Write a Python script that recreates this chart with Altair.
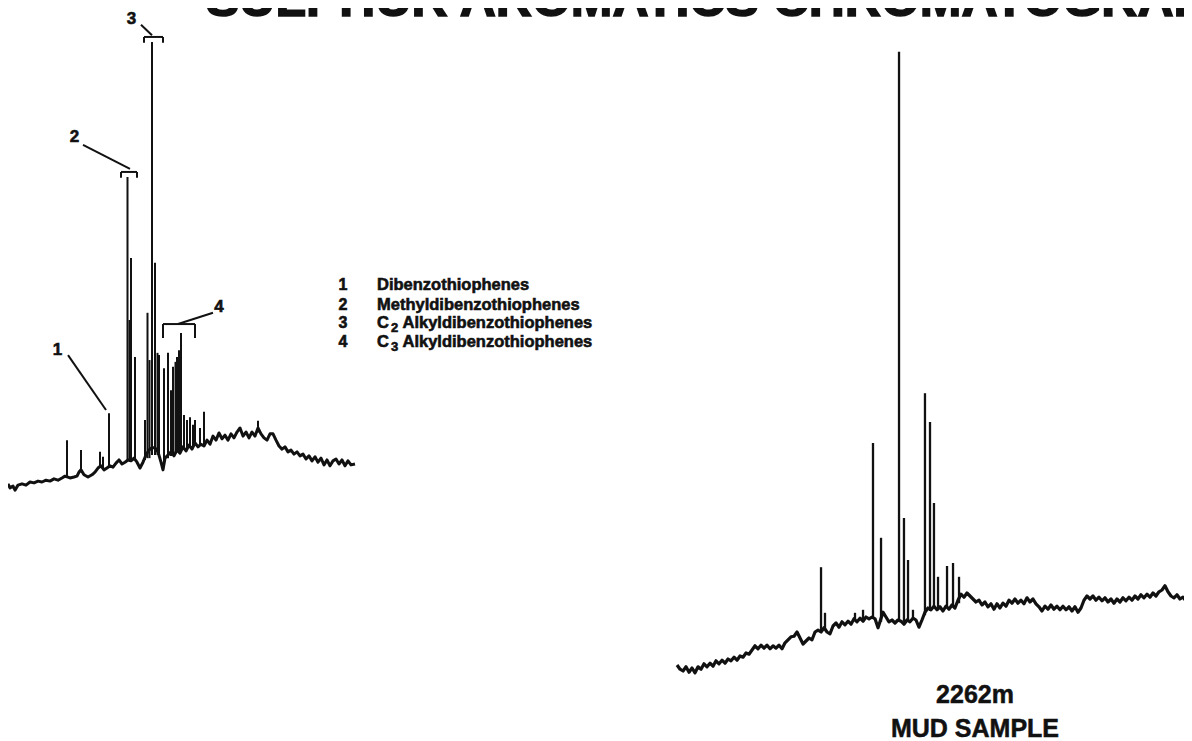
import altair as alt
import pandas as pd

FONT = "Liberation Sans"

# ---------------- Left chromatogram (sulphur aromatics, reference trace) ----------------
# retention time (arbitrary min) and detector signal (% of largest peak)
left_time = [0.0, 0.4, 1.0, 1.4, 2.0, 2.8, 3.6, 4.4, 5.2, 6.0, 6.8, 7.6, 8.4, 9.2, 10.0,
             10.8, 11.4, 12.4, 13.2, 13.8, 14.2, 14.6, 15.2, 16.0, 16.8, 17.4, 18.0, 18.6,
             19.2, 19.8, 20.4, 21.0, 21.6, 22.2, 22.8, 23.4, 24.0, 24.6, 25.2, 25.8, 26.4,
             27.0, 27.6, 28.2, 28.8, 29.4, 30.0, 30.6, 31.0, 31.4, 32.0, 32.6, 33.2, 33.8,
             34.4, 35.0, 35.6, 36.2, 36.8, 37.4, 38.0, 38.6, 39.2, 39.8, 40.4, 41.0, 41.6,
             42.2, 42.8, 43.4, 44.0, 44.6, 45.2, 45.8, 46.4, 47.0, 47.6, 48.2, 48.8, 49.4,
             50.0, 50.6, 51.2, 51.8, 52.4, 53.0, 53.6, 54.2, 54.8, 55.4, 56.0, 56.6, 57.2,
             57.8, 58.4, 59.0, 59.6, 60.2, 60.8, 61.4, 62.0, 62.6, 63.2, 63.8, 64.4, 65.0,
             65.6, 66.2, 66.8, 67.4, 68.0, 68.6, 69.4]
left_signal = [3.6, 2.7, 3.1, 2.2, 3.3, 3.6, 3.3, 4.0, 3.8, 4.2, 4.0, 4.4, 4.2, 4.7, 4.4,
               4.9, 5.3, 4.9, 5.1, 5.3, 6.2, 6.7, 5.6, 5.1, 5.6, 6.2, 7.1, 7.6,
               6.7, 7.1, 7.6, 7.3, 8.2, 8.9, 8.0, 8.4, 8.9, 8.7, 9.3, 8.4, 7.1,
               8.4, 10.0, 11.1, 11.6, 11.6, 10.7, 8.4, 6.7, 9.3, 10.0, 10.7, 9.8, 11.1,
               10.4, 11.8, 10.9, 12.2, 11.3, 12.7, 11.8, 12.4, 12.0, 13.3, 12.4, 14.2, 13.3,
               14.9, 13.6, 14.4, 13.3, 14.7, 13.8, 15.1, 16.0, 14.2, 15.1, 13.8, 15.1, 14.2,
               16.0, 14.7, 13.8, 13.3, 14.7, 14.7, 13.3, 12.0, 11.3, 11.8, 10.7, 11.1, 10.2,
               10.7, 9.8, 10.2, 9.1, 9.8, 8.7, 9.6, 8.4, 9.3, 7.8, 8.9, 7.6, 8.7,
               9.1, 8.0, 8.9, 7.6, 8.7, 7.8, 8.0]
left_peak_time = [11.8, 14.6, 18.4, 19.0, 20.2, 23.9, 24.3, 24.6, 25.4, 27.4, 27.9, 28.3,
                  28.8, 29.4, 29.9, 30.2, 31.2, 32.0, 32.6, 33.0, 33.5, 33.8, 34.2, 34.6,
                  35.2, 35.8, 36.4, 37.0, 37.4, 38.4, 39.2, 50.0]
left_peak_foot = [5.1, 6.2, 7.1, 7.1, 7.3, 8.9, 8.9, 8.9, 8.9, 8.9, 9.3, 9.3,
                  10.0, 10.0, 10.0, 9.8, 8.4, 9.3, 9.8, 10.0, 10.4, 10.7, 10.7, 11.1,
                  11.1, 11.6, 11.8, 12.0, 12.2, 12.2, 12.4, 15.0]
left_peak_top = [13.3, 11.1, 10.7, 9.6, 19.3, 71.8, 40.0, 53.8, 31.8, 17.8, 41.6, 31.1,
                 101.8, 52.7, 32.7, 32.2, 29.3, 32.7, 24.4, 29.6, 30.7, 31.8, 33.3, 37.1,
                 18.9, 17.8, 18.4, 16.7, 17.8, 16.0, 19.6, 17.6]

# peak group labels (in left-trace units)
label_text = ["1", "2", "3", "4"]
label_time = [9.9, 13.3, 24.7, 42.2]
label_signal = [33.4, 80.6, 106.8, 43.0]
# leader lines and brackets: start/end (time, signal)
seg_t1 = [12.0, 15.0, 22.6, 22.6, 25.8, 26.6, 27.2, 27.2, 31.0, 41.0, 31.0, 31.0, 37.4]
seg_s1 = [32.2, 78.9, 72.9, 72.9, 72.9, 105.6, 102.9, 102.9, 102.9, 41.6, 39.1, 39.1, 39.1]
seg_t2 = [19.6, 24.4, 25.8, 22.6, 25.8, 28.8, 31.0, 27.2, 31.0, 34.0, 37.4, 31.0, 37.4]
seg_s2 = [20.0, 73.6, 72.9, 71.6, 71.6, 103.3, 102.9, 101.6, 101.6, 39.1, 39.1, 36.0, 36.0]

legend_num = ["1", "2", "3", "4"]
legend_prefix = ["", "", "C", "C"]
legend_sub = ["", "", "2", "3"]
legend_name = ["Dibenzothiophenes", "Methyldibenzothiophenes",
               "Alkyldibenzothiophenes", "Alkyldibenzothiophenes"]
legend_signal = [47.7, 43.4, 39.3, 35.1]

# ---------------- Right chromatogram (2262m mud sample) ----------------
right_time = [0.27, 0.67, 1.07, 1.47, 1.87, 2.27, 2.67, 3.07, 3.47, 3.87, 4.27, 4.67, 5.07,
              5.47, 5.87, 6.27, 6.67, 7.07, 7.47, 7.87, 8.27, 8.67, 9.07, 9.47, 9.87, 10.27,
              10.67, 11.07, 11.47, 11.87, 12.27, 12.67, 13.07, 13.47, 13.87, 14.27, 14.67,
              15.07, 15.47, 15.87, 16.27, 16.67, 17.07, 17.47, 17.87, 18.27, 18.67, 19.07,
              19.47, 19.87, 20.27, 20.67, 21.07, 21.47, 21.87, 22.27, 22.67, 23.07, 23.47,
              23.87, 24.27, 24.67, 25.07, 25.47, 25.87, 26.27, 26.67, 27.07, 27.33, 27.73,
              28.13, 28.53, 28.93, 29.33, 29.73, 30.13, 30.53, 30.93, 31.33, 31.73, 32.13,
              32.53, 32.93, 33.33, 33.73, 34.13, 34.53, 34.93, 35.33, 35.73, 36.13, 36.53,
              36.93, 37.33, 37.73, 38.13, 38.53, 38.93, 39.33, 39.73, 40.13, 40.53, 40.93,
              41.33, 41.73, 42.13, 42.53, 42.93, 43.33, 43.73, 44.13, 44.53, 44.93, 45.33,
              45.73, 46.13, 46.53, 46.93, 47.33, 47.73, 48.13, 48.53, 48.93, 49.33, 49.73,
              50.13, 50.53, 50.93, 51.33, 51.73, 52.13, 52.53, 52.93, 53.33, 53.73, 54.13,
              54.53, 54.93, 55.33, 55.73, 56.13, 56.53, 56.93, 57.33, 57.73, 58.13, 58.53,
              58.93, 59.33, 59.73, 60.13, 60.53, 60.93, 61.33, 61.73, 62.13, 62.53, 62.93,
              63.33, 63.73, 64.13, 64.53, 64.93, 65.33, 65.73, 66.13, 66.53, 66.93, 67.33,
              67.73, 68.13, 68.53, 68.93]
right_signal = [2.5, 1.8, 1.5, 2.2, 1.3, 2.0, 1.2, 2.2, 1.8, 2.7, 2.2, 2.8, 2.3,
                3.2, 2.7, 3.3, 2.8, 3.5, 3.2, 3.8, 3.3, 4.0, 3.8, 4.5, 4.3, 5.0,
                5.7, 5.2, 5.8, 5.3, 5.8, 5.2, 5.7, 5.3, 5.8, 5.2, 6.2,
                6.7, 7.2, 7.3, 8.0, 7.0, 6.0, 6.5, 7.0, 6.7, 8.0, 8.3,
                8.0, 8.7, 8.0, 7.7, 9.0, 9.5, 8.8, 9.7, 9.2, 9.8, 9.3,
                10.2, 9.7, 10.3, 9.8, 10.5, 10.2, 10.5, 10.2, 8.7, 9.7, 11.3,
                10.5, 9.7, 10.0, 9.5, 10.0, 9.8, 9.3, 10.0, 9.7, 10.3, 10.0,
                8.8, 10.0, 11.3, 12.0, 11.7, 12.3, 11.7, 12.2, 11.5, 12.3, 11.8,
                12.5, 12.0, 13.3, 14.3, 13.8, 14.5, 14.0, 13.5, 13.0, 13.3, 12.5,
                13.0, 12.2, 12.7, 11.8, 12.7, 12.0, 12.8, 12.3, 13.3, 12.8, 13.5,
                12.8, 13.3, 12.7, 13.7, 13.0, 13.5, 12.7, 12.2, 11.5, 12.3, 11.8,
                12.5, 11.8, 12.3, 11.7, 12.3, 11.7, 12.2, 11.5, 12.2, 11.3, 12.0,
                13.3, 14.0, 13.5, 14.0, 13.3, 13.8, 13.2, 13.7, 13.0, 13.5, 12.8,
                13.5, 13.0, 13.7, 13.2, 13.8, 13.3, 14.0, 13.5, 14.2, 13.7, 14.3,
                13.8, 14.5, 14.0, 14.7, 15.0, 15.7, 14.7, 14.0, 13.7, 14.2, 13.5,
                13.8, 13.2, 13.5, 13.0]
right_peak_time = [19.47, 20.0, 24.0, 25.07, 26.4, 27.47, 29.87, 30.53, 31.07, 31.73,
                   33.33, 34.0, 34.53, 35.07, 36.27, 37.07, 37.87]
right_peak_foot = [8.3, 8.3, 10.0, 10.0, 10.3, 9.7, 10.0, 9.7, 9.8, 10.3,
                   10.8, 11.5, 12.0, 11.7, 12.2, 12.3, 12.8]
right_peak_top = [18.8, 11.2, 11.2, 11.7, 39.5, 23.7, 104.7, 27.0, 20.0, 11.7,
                  47.8, 43.0, 29.5, 17.2, 19.0, 19.5, 17.2]

sample_lines = ["2262m", "MUD SAMPLE"]
title_text = "SULPHUR AROMATICS CHROMATOGRAM"

INK = "#111111"

# ---------------- build ----------------
lx = alt.Scale(domain=[0, 70], range=[0, 350])
ly = alt.Scale(domain=[0, 100], range=[492, 42])
rx = alt.Scale(domain=[0, 70], range=[667, 1192])
ry = alt.Scale(domain=[0, 100], range=[672, 72])

left_base = pd.DataFrame({"t": left_time, "s": left_signal})
left_peaks = pd.DataFrame({"t": left_peak_time, "foot": left_peak_foot, "top": left_peak_top})
segs = pd.DataFrame({"t": seg_t1, "s": seg_s1, "t2": seg_t2, "s2": seg_s2})
labels = pd.DataFrame({"txt": label_text, "t": label_time, "s": label_signal})
leg = pd.DataFrame({"num": legend_num, "pre": legend_prefix, "sub": legend_sub,
                    "name": legend_name, "s": legend_signal})

l_line = alt.Chart(left_base).mark_line(color=INK, strokeWidth=3.0, strokeJoin="round").encode(
    x=alt.X("t:Q", scale=lx, axis=None), y=alt.Y("s:Q", scale=ly, axis=None))
l_peaks = alt.Chart(left_peaks).mark_rule(color=INK, strokeWidth=2.0).encode(
    x=alt.X("t:Q", scale=lx, axis=None), y=alt.Y("foot:Q", scale=ly, axis=None), y2="top:Q")
l_segs = alt.Chart(segs).mark_rule(color=INK, strokeWidth=2.0).encode(
    x=alt.X("t:Q", scale=lx, axis=None), y=alt.Y("s:Q", scale=ly, axis=None),
    x2="t2:Q", y2="s2:Q")
l_labels = alt.Chart(labels).mark_text(font=FONT, fontWeight="bold", fontSize=17, color=INK,
                                        stroke=INK, strokeWidth=0.6,
                                        align="center", baseline="middle").encode(
    x=alt.X("t:Q", scale=lx, axis=None), y=alt.Y("s:Q", scale=ly, axis=None), text="txt:N")

TXT = dict(font=FONT, fontWeight="bold", color=INK, stroke=INK, strokeWidth=0.6, baseline="middle")
leg_num = alt.Chart(leg).mark_text(fontSize=16, align="center", **TXT).encode(
    x=alt.datum(67.0, scale=lx), y=alt.Y("s:Q", scale=ly, axis=None), text="num:N")
leg_plain = alt.Chart(leg).transform_filter("datum.pre == ''").mark_text(
    fontSize=16.5, align="left", **TXT).encode(
    x=alt.datum(73.8, scale=lx), y=alt.Y("s:Q", scale=ly, axis=None), text="name:N")
leg_pre = alt.Chart(leg).transform_filter("datum.pre != ''").mark_text(
    fontSize=16.5, align="left", **TXT).encode(
    x=alt.datum(73.8, scale=lx), y=alt.Y("s:Q", scale=ly, axis=None), text="pre:N")
leg_sub = alt.Chart(leg).transform_filter("datum.pre != ''").mark_text(
    fontSize=13, align="left", dy=5, **TXT).encode(
    x=alt.datum(76.6, scale=lx), y=alt.Y("s:Q", scale=ly, axis=None), text="sub:N")
leg_name = alt.Chart(leg).transform_filter("datum.pre != ''").mark_text(
    fontSize=16.5, align="left", **TXT).encode(
    x=alt.datum(78.9, scale=lx), y=alt.Y("s:Q", scale=ly, axis=None), text="name:N")

left = alt.layer(l_line, l_peaks, l_segs, l_labels, leg_num, leg_plain, leg_pre, leg_sub, leg_name)

right_base = pd.DataFrame({"t": right_time, "s": right_signal})
right_peaks = pd.DataFrame({"t": right_peak_time, "foot": right_peak_foot, "top": right_peak_top})
r_line = alt.Chart(right_base).mark_line(color=INK, strokeWidth=3.2, strokeJoin="round").encode(
    x=alt.X("t:Q", scale=rx, axis=None), y=alt.Y("s:Q", scale=ry, axis=None))
r_peaks = alt.Chart(right_peaks).mark_rule(color=INK, strokeWidth=2.3).encode(
    x=alt.X("t:Q", scale=rx, axis=None), y=alt.Y("foot:Q", scale=ry, axis=None), y2="top:Q")
right = alt.layer(r_line, r_peaks)

title = alt.Chart(pd.DataFrame({"txt": [title_text]})).mark_text(
    font=FONT, fontWeight="bold", fontSize=50, color=INK, stroke=INK, strokeWidth=1.6,
    align="left", baseline="alphabetic").encode(
    x=alt.value(198), y=alt.value(8), text="txt:N")
sample = alt.Chart(pd.DataFrame({"txt": sample_lines, "k": [0, 1]})).mark_text(
    font=FONT, fontWeight="bold", fontSize=25, color=INK, stroke=INK, strokeWidth=0.5,
    align="center", baseline="alphabetic").encode(
    x=alt.value(967), y=alt.Y("k:Q", scale=alt.Scale(domain=[0, 1], range=[695, 729]), axis=None),
    text="txt:N")

chart = alt.layer(left, right, title, sample).resolve_scale(
    x="independent", y="independent").properties(
    width=1176, height=733, padding=0,
    autosize=alt.AutoSizeParams(type="none"),
    background="white").configure_view(stroke=None)

chart.save("out.html", embed_options={"renderer": "svg", "actions": False})
